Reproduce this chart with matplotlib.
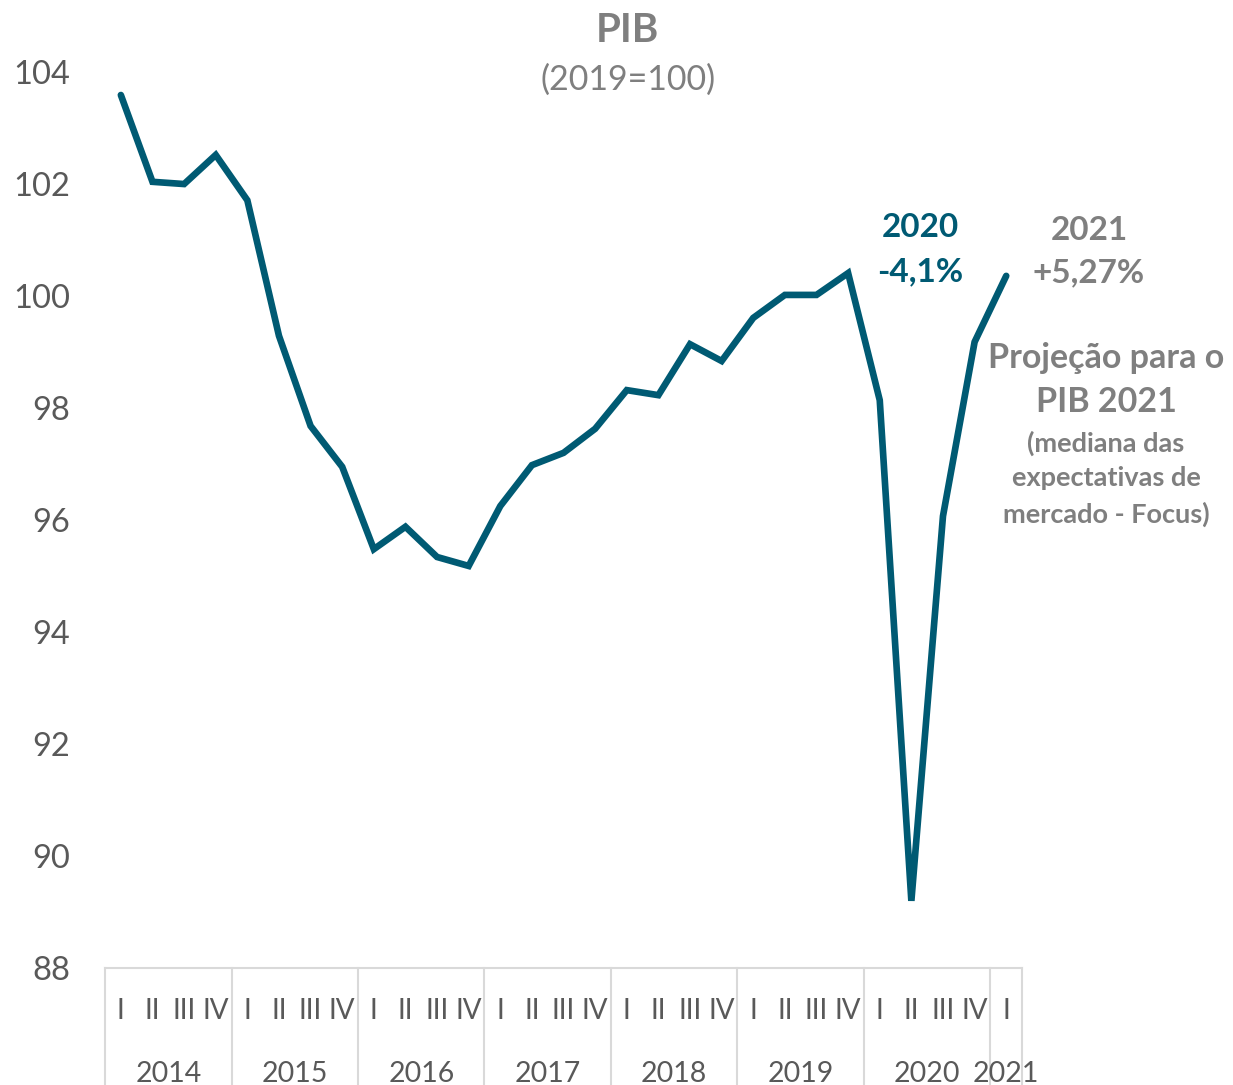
import matplotlib
matplotlib.use("Agg")
import matplotlib.pyplot as plt
import matplotlib.transforms as mtransforms

plt.rcParams['font.family'] = ['Lato', 'DejaVu Sans']

# PIB trimestral, indice 2019=100
anos = ["2014", "2015", "2016", "2017", "2018", "2019", "2020", "2021"]
trimestres = ["I", "II", "III", "IV"] * 7 + ["I"]
pib = [103.59, 102.04, 102.00, 102.52,
       101.71, 99.29, 97.68, 96.95,
       95.48, 95.88, 95.34, 95.18,
       96.25, 96.98, 97.20, 97.63,
       98.32, 98.23, 99.14, 98.84,
       99.61, 100.02, 100.02, 100.41,
       98.14, 89.20, 96.07, 99.18,
       100.36]

cor_linha = "#005A73"
cinza = "#7F7F7F"
cinza_eixo = "#595959"
cinza_grade = "#D9D9D9"

fig = plt.figure(figsize=(12.33, 10.85), dpi=100)
ax = fig.add_axes([0.0852, 0.1078, 0.8289 - 0.0852, 0.9336 - 0.1078])

x = list(range(len(pib)))
ax.plot(x, pib, color=cor_linha, lw=4.8, solid_joinstyle="miter", solid_capstyle="round")

ax.set_xlim(-0.5, len(pib) - 0.5)
ax.set_ylim(88, 104)
ax.set_yticks(range(88, 105, 2))
ax.tick_params(axis="y", length=0, pad=25, labelsize=23.5, labelcolor=cinza_eixo)
ax.set_xticks([])
for s in ["top", "right", "left"]:
    ax.spines[s].set_visible(False)
ax.spines["bottom"].set_color(cinza_grade)
ax.spines["bottom"].set_linewidth(1.5)

# eixo de categorias em dois niveis
trans = mtransforms.blended_transform_factory(ax.transData, ax.transAxes)
for i, q in enumerate(trimestres):
    ax.text(i, -0.048, q, transform=trans, ha="center", va="center",
            fontsize=20, color=cinza_eixo, clip_on=False)

limites = [-0.5]
inicio = 0
for a in anos:
    n = 4 if a != "2021" else 1
    centro = inicio + (n - 1) / 2
    ax.text(centro, -0.118, a, transform=trans, ha="center", va="center",
            fontsize=20.5, color=cinza_eixo, clip_on=False)
    inicio += n
    limites.append(inicio - 0.5)
for b in limites:
    ax.plot([b, b], [0, -0.2], transform=trans, color=cinza_grade, lw=1.5, clip_on=False)

# titulos
fig.text(0.509, 1 - 30 / 1085, "PIB", ha="center", va="center",
         fontsize=29, fontweight="bold", color=cinza)
fig.text(0.509, 1 - 80 / 1085, "(2019=100)", ha="center", va="center",
         fontsize=24.5, color=cinza)

# anotacoes
fig.text(920 / 1233, 1 - 228 / 1085, "2020", ha="center", va="center",
         fontsize=24, fontweight="bold", color=cor_linha)
fig.text(920 / 1233, 1 - 272 / 1085, "-4,1%", ha="center", va="center",
         fontsize=24, fontweight="bold", color=cor_linha)
fig.text(1089 / 1233, 1 - 230 / 1085, "2021", ha="center", va="center",
         fontsize=24, fontweight="bold", color=cinza)
fig.text(1089 / 1233, 1 - 273 / 1085, "+5,27%", ha="center", va="center",
         fontsize=24, fontweight="bold", color=cinza)
fig.text(1106 / 1233, 1 - 358 / 1085, "Projeção para o", ha="center", va="center",
         fontsize=24.5, fontweight="bold", color=cinza)
fig.text(1106 / 1233, 1 - 402 / 1085, "PIB 2021", ha="center", va="center",
         fontsize=24.5, fontweight="bold", color=cinza)
for txt, yy in [("(mediana das", 443), ("expectativas de", 478), ("mercado - Focus)", 514)]:
    fig.text(1106 / 1233, 1 - yy / 1085, txt, ha="center", va="center",
             fontsize=19.5, fontweight="bold", color=cinza)

fig.savefig("out.png", dpi=100)
